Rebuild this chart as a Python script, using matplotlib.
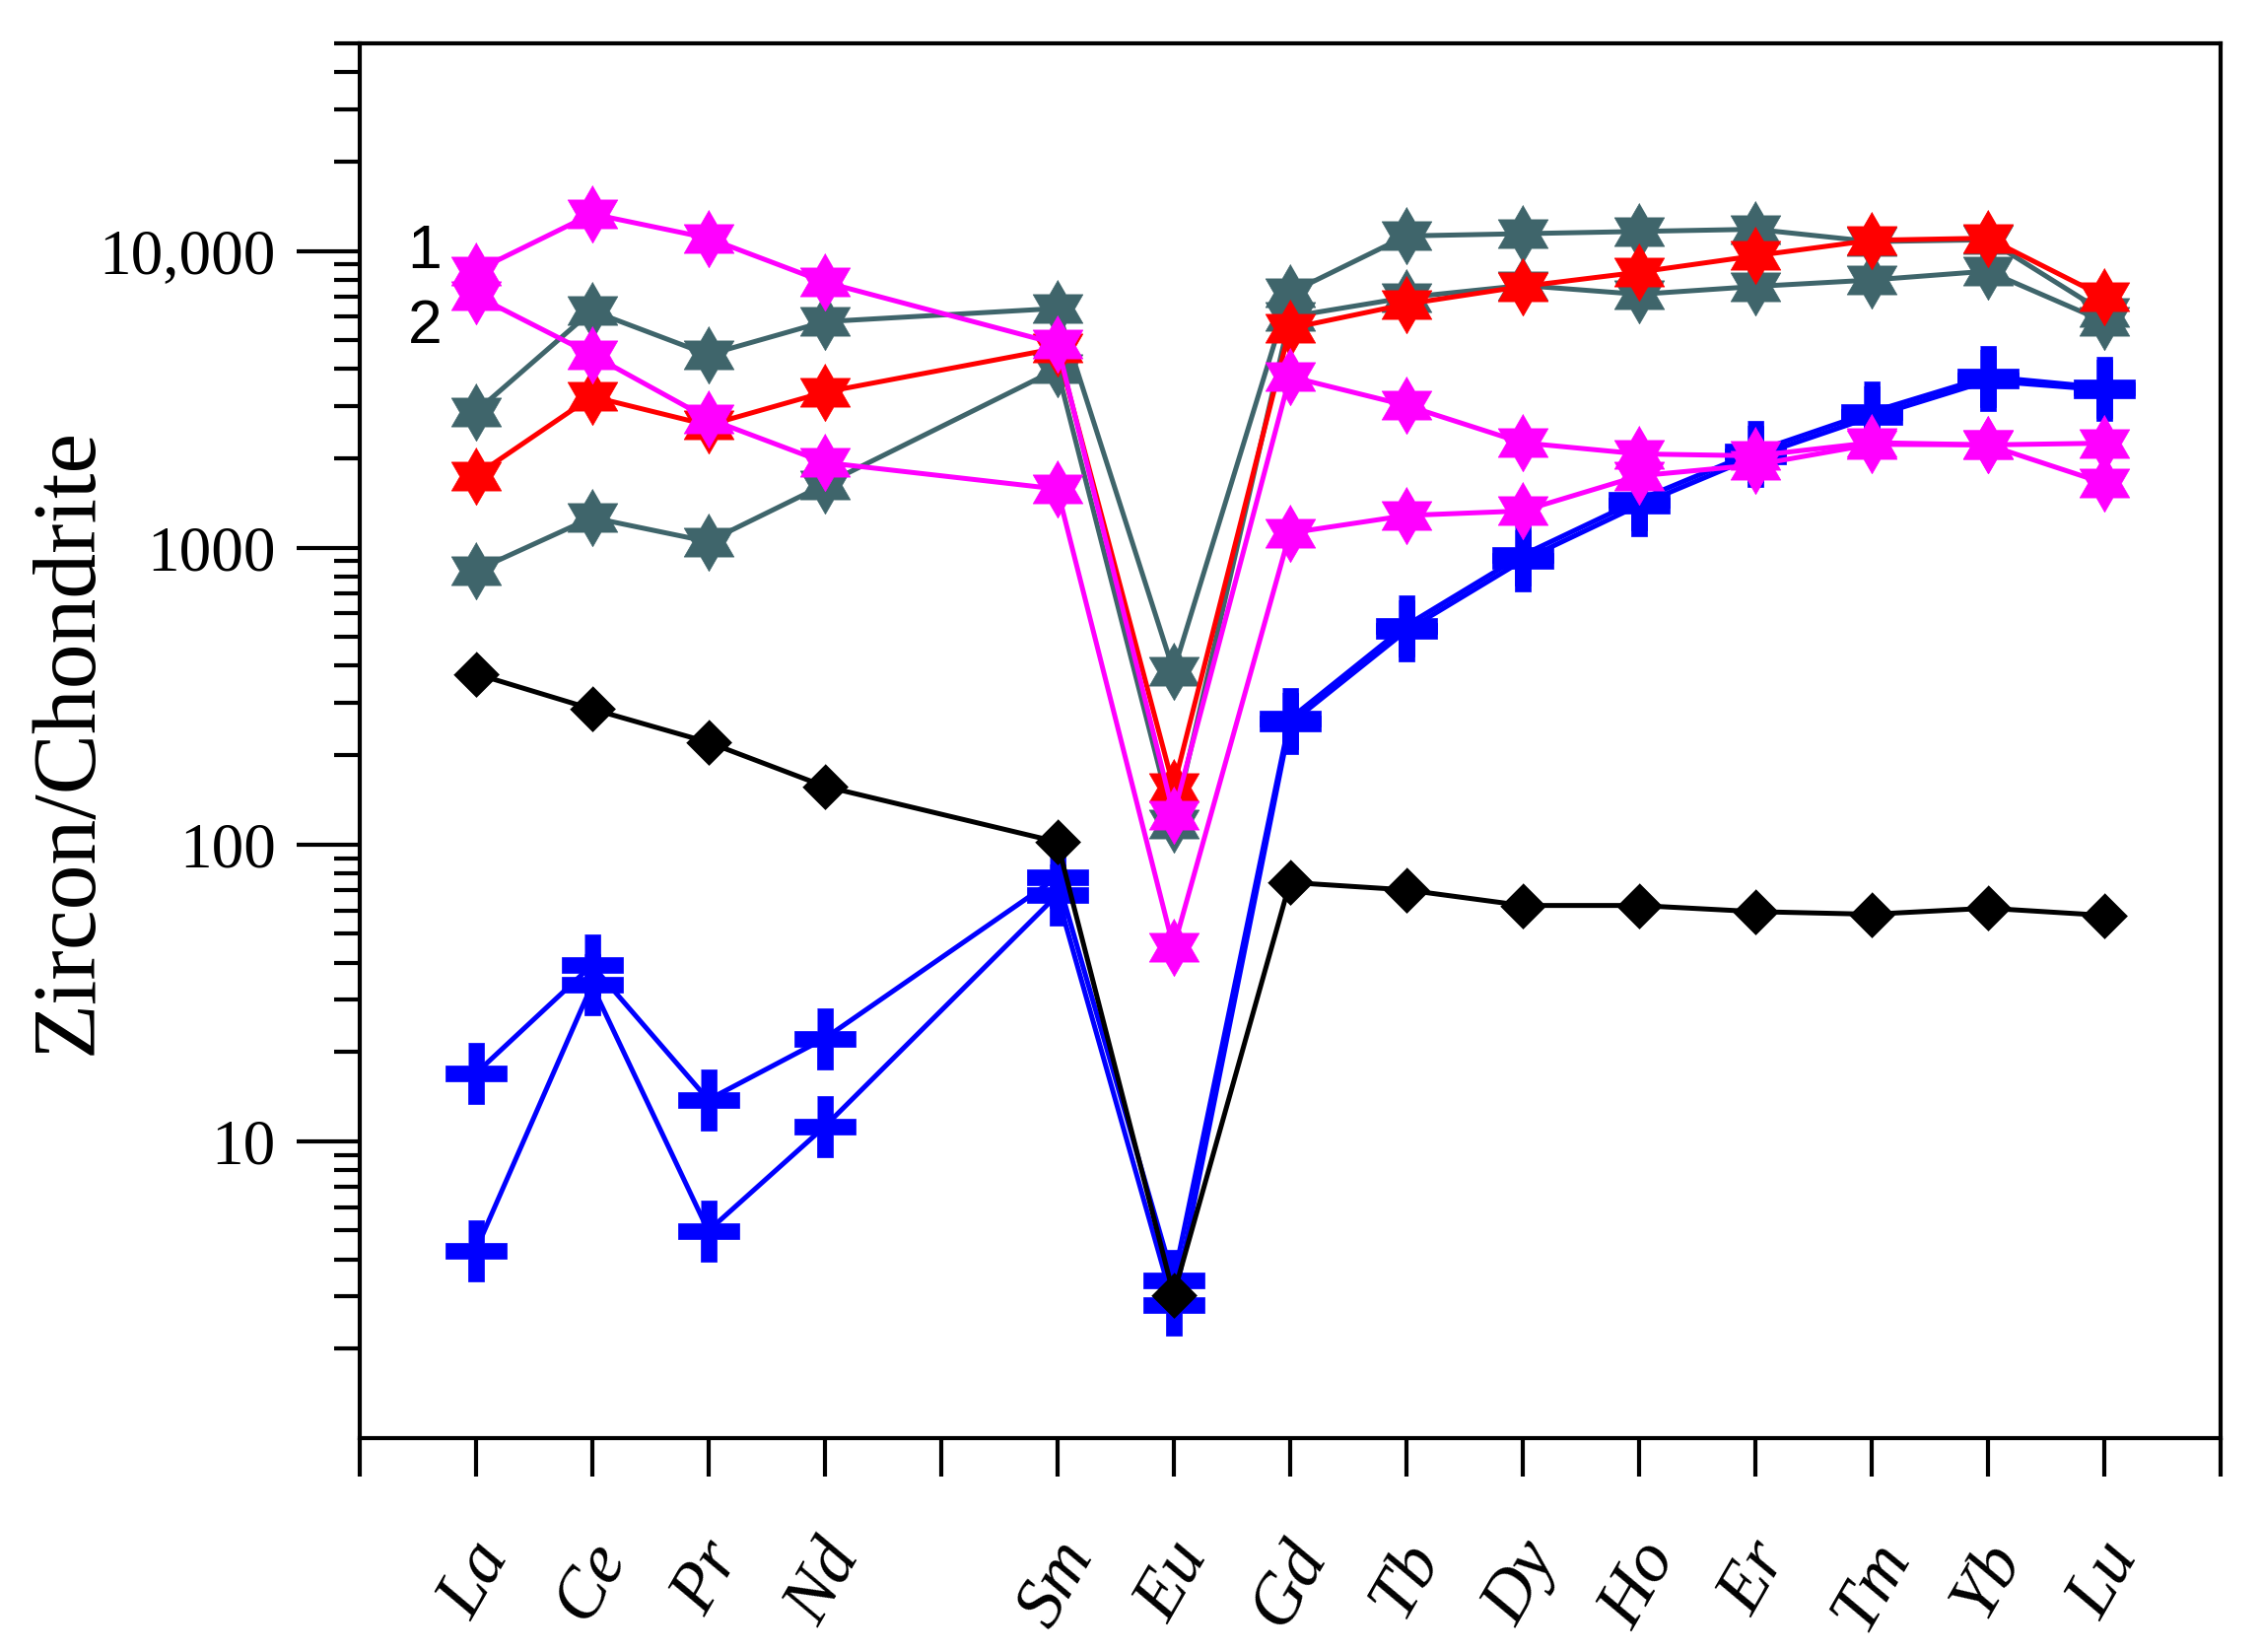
import numpy as np
import matplotlib
matplotlib.use("Agg")
import matplotlib.pyplot as plt
from matplotlib.ticker import FixedLocator, NullFormatter

# REE order along the x axis (Pm has a tick but no data)
ree_order = ['La', 'Ce', 'Pr', 'Nd', 'Pm', 'Sm', 'Eu', 'Gd', 'Tb', 'Dy', 'Ho', 'Er', 'Tm', 'Yb', 'Lu']
elements = ['La', 'Ce', 'Pr', 'Nd', 'Sm', 'Eu', 'Gd', 'Tb', 'Dy', 'Ho', 'Er', 'Tm', 'Yb', 'Lu']

# zircon / chondrite values
black = [376, 286, 221, 157, 102, 3.04, 74.5, 70.3, 62.3, 62.3, 59.4, 58.2, 61.0, 57.7]
teal1 = [2865, 6285, 4470, 5775, 6400, 384, 7215, 11230, 11430, 11630, 11830, 10750, 10900, 6200]
teal2 = [837, 1263, 1048, 1632, 4000, 117, 6000, 6966, 7650, 7140, 7590, 7980, 8550, 5780]
red = [1747, 3231, 2587, 3342, 4700, 156, 5480, 6617, 7590, 8480, 9630, 10860, 11040, 7000]
blue1 = [16.9, 39.2, 13.8, 22.2, 77.5, 3.41, 265, 547, 944, 1449, 2107, 2866, 3772, 3460]
blue2 = [4.28, 33.6, 4.99, 11.2, 67.6, 2.81, 255, 525, 905, 1390, 2030, 2760, 3650, 3400]
magenta1 = [8550, 13320, 11040, 7850, 4860, 126, 3770, 3016, 2257, 2070, 2040, 2260, 2220, 2250]
magenta2 = [7080, 4470, 2720, 1937, 1577, 44.9, 1121, 1284, 1330, 1746, 1900, 2230, 2220, 1650]

ytick_vals = [10, 100, 1000, 10000]
ytick_labels = ['10', '100', '1000', '10,000']


def hexagram():
    ang = np.deg2rad(90 + 30 * np.arange(12))
    r = np.where(np.arange(12) % 2 == 0, 1.0, 1 / np.sqrt(3))
    return list(zip(r * np.cos(ang), r * np.sin(ang)))


def fat_plus(t=0.27):
    return [(-t, 1), (t, 1), (t, t), (1, t), (1, -t), (t, -t), (t, -1), (-t, -1),
            (-t, -t), (-1, -t), (-1, t), (-t, t)]


diamond = [(0, 1), (1, 0), (0, -1), (-1, 0)]

x = [ree_order.index(e) + 1 for e in elements]

fig = plt.figure(figsize=(22.94, 16.76), dpi=100)
ax = fig.add_axes([0.1589, 0.1295, 0.8232, 0.8442])

teal_c = '#3F656B'
lw = 3.6
star = hexagram()
plus = fat_plus()

for ys in (teal1, teal2):
    ax.plot(x, ys, color=teal_c, lw=lw, marker=star, ms=42, mec=teal_c, mew=0.5, zorder=2)
ax.plot(x, red, color='#FF0000', lw=lw, marker=star, ms=42, mec='#FF0000', mew=0.5, zorder=3)
for ys in (blue1, blue2):
    ax.plot(x, ys, color='#0000FF', lw=lw, marker=plus, ms=44, mec='#0000FF', mew=0.5, zorder=4)
ax.plot(x, black, color='black', lw=lw, marker=diamond, ms=33, mec='black', mew=0.5, zorder=5)
for ys in (magenta1, magenta2):
    ax.plot(x, ys, color='#FF00FF', lw=lw, marker=star, ms=42, mec='#FF00FF', mew=0.5, zorder=6)

ax.text(0.563, 9960, '1', fontsize=45, family='Liberation Sans', ha='center', va='center')
ax.text(0.563, 5570, '2', fontsize=45, family='Liberation Sans', ha='center', va='center')

ax.set_yscale('log')
ax.set_ylim(1, 5e4)
ax.set_xlim(0, len(ree_order) + 1)

ax.yaxis.set_major_locator(FixedLocator(ytick_vals))
ax.set_yticklabels(ytick_labels, fontsize=47, family='Liberation Serif')
minor = [m * 10 ** d for d in range(0, 5) for m in range(2, 10) if m * 10 ** d <= 5e4]
ax.yaxis.set_minor_locator(FixedLocator(minor))
ax.yaxis.set_minor_formatter(NullFormatter())

ax.set_xticks(range(0, len(ree_order) + 2))
ax.set_xticklabels([''] + [e if e != 'Pm' else '' for e in ree_order] + [''],
                   fontsize=52, family='Liberation Serif', style='italic', rotation=60)

ax.tick_params(axis='y', which='major', direction='out', length=46, width=3, pad=15)
ax.tick_params(axis='y', which='minor', direction='out', length=19, width=3)
ax.tick_params(axis='x', which='major', direction='out', length=28, width=3, pad=40)

for s in ax.spines.values():
    s.set_linewidth(3)

ax.set_ylabel('Zircon/Chondrite', fontsize=66, family='Liberation Serif')
ax.yaxis.set_label_coords(-0.134, 0.5)

fig.savefig('out.png', dpi=100)
